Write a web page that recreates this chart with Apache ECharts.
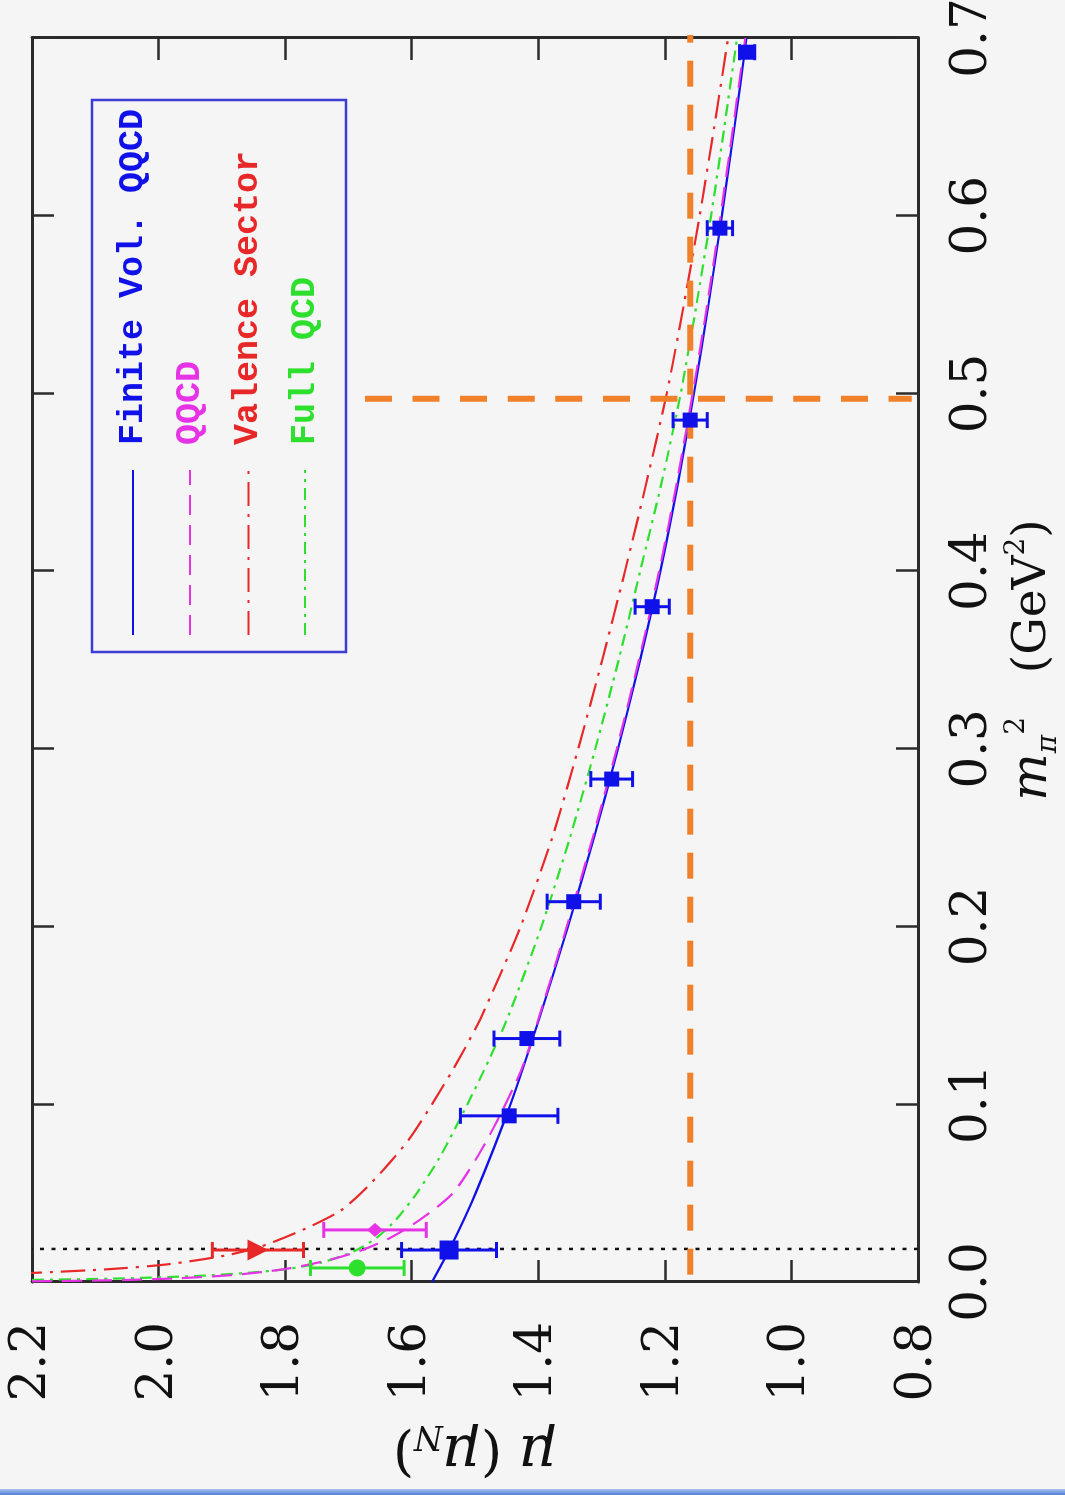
<!DOCTYPE html>
<html><head><meta charset="utf-8">
<script src="https://cdn.jsdelivr.net/npm/echarts@6/dist/echarts.min.js"></script>
<style>
html,body{margin:0;padding:0;background:#f5f5f5;width:1065px;height:1495px;overflow:hidden;}
#chart{position:absolute;left:0;top:0;width:1495px;height:1065px;transform-origin:0 0;transform:translate(0,1495px) rotate(-90deg);}
#bar{position:absolute;left:0;bottom:0;width:1065px;height:6px;background:linear-gradient(#a9c1ee,#4f7fd8);}
</style></head><body>
<div id="chart"></div><div id="bar"></div>
<script>
// ---- data (x: m_pi^2 in GeV^2, y: mu in nuclear magnetons) ----
const xTickLabels = ['0.0','0.1','0.2','0.3','0.4','0.5','0.6','0.7'];
const yTickLabels = ['0.8','1.0','1.2','1.4','1.6','1.8','2.0','2.2'];

// Finite volume QQCD lattice points
const fvM2  = [0.018, 0.0935, 0.137, 0.214, 0.283, 0.380, 0.485, 0.593, 0.692];
const fvMu  = [1.541, 1.446, 1.418, 1.344, 1.284, 1.220, 1.160, 1.113, 1.070];
const fvErr = [0.075, 0.077, 0.052, 0.042, 0.033, 0.027, 0.027, 0.020, 0.012];

// extrapolated points near the physical pion mass
const valM2 = [0.018], valMu = [1.843], valErr = [0.072];
const qqM2  = [0.0293], qqMu = [1.658], qqErr = [0.081];
const fullM2 = [0.0079], fullMu = [1.686], fullErr = [0.074];

// curves
const fvCurveM2 = [0, 0.02, 0.05, 0.1, 0.15, 0.2, 0.25, 0.3, 0.35, 0.4, 0.45, 0.5, 0.55, 0.6, 0.65, 0.7];
const fvCurveMu = [1.568, 1.538, 1.499, 1.444, 1.397, 1.353, 1.312, 1.274, 1.239, 1.207, 1.179, 1.154, 1.131, 1.110, 1.090, 1.071];

const qqCurveM2 = [0.0004, 0.001, 0.002, 0.004, 0.0073, 0.012, 0.0175, 0.025, 0.036, 0.05, 0.07, 0.09, 0.12, 0.15, 0.2, 0.25, 0.3, 0.35, 0.4, 0.45, 0.5, 0.55, 0.6, 0.65, 0.7];
const qqCurveMu = [2.2, 2.07, 1.975, 1.88, 1.80, 1.735, 1.682, 1.633, 1.583, 1.535, 1.497, 1.466, 1.426, 1.398, 1.355, 1.314, 1.276, 1.241, 1.209, 1.181, 1.156, 1.133, 1.112, 1.092, 1.073];

const valCurveM2 = [0.004, 0.0051, 0.0073, 0.01, 0.015, 0.02, 0.03, 0.04, 0.05, 0.065, 0.08, 0.1, 0.125, 0.15, 0.2, 0.25, 0.3, 0.35, 0.4, 0.45, 0.5, 0.55, 0.6, 0.65, 0.7];
const valCurveMu = [2.29, 2.2, 2.075, 1.985, 1.893, 1.838, 1.768, 1.713, 1.680, 1.640, 1.605, 1.568, 1.526, 1.489, 1.428, 1.378, 1.337, 1.299, 1.263, 1.229, 1.197, 1.170, 1.145, 1.122, 1.100];

const fullCurveM2 = [0.0012, 0.002, 0.0034, 0.005, 0.0073, 0.011, 0.0175, 0.025, 0.035, 0.05, 0.07, 0.1, 0.125, 0.15, 0.2, 0.25, 0.3, 0.35, 0.4, 0.45, 0.5, 0.55, 0.6, 0.65, 0.7];
const fullCurveMu = [2.2, 2.06, 1.94, 1.865, 1.797, 1.742, 1.690, 1.655, 1.625, 1.592, 1.556, 1.512, 1.478, 1.447, 1.395, 1.350, 1.310, 1.273, 1.239, 1.205, 1.175, 1.150, 1.127, 1.106, 1.086];

// reference lines
const physM2 = 0.0186;          // dotted line
const refMu = 1.160;            // orange dashed (constant mu)
const refMuM2Range = [0.712, 0.003];
const refM2 = 0.497;            // orange dashed (constant m^2)
const refM2MuRange = [1.674, 0.81];

const legendNames = ['Finite Vol. QQCD', 'QQCD', 'Valence Sector', 'Full QCD'];

// ---- styles ----
const C = {blue:'#1010e8', magenta:'#e633e6', red:'#e82828', green:'#2ee02e', orange:'#f0802a', frame:'#2b2b2b'};
const dashQQ = [20, 10];
const dashVal = [24, 8, 3, 8];
const dashFull = [12, 6, 3, 6];

const pairs = (xs, ys) => xs.map((x, i) => [x, ys[i]]);
const errData = (xs, ys, es) => xs.map((x, i) => [x, ys[i] - es[i], ys[i] + es[i]]);

function errSeries(xs, ys, es, color) {
  return {
    type: 'custom', data: errData(xs, ys, es), z: 5, clip: false,
    renderItem: function (params, api) {
      const x = api.value(0);
      const p1 = api.coord([x, api.value(1)]);
      const p2 = api.coord([x, api.value(2)]);
      const w = 8;
      const st = {stroke: color, lineWidth: 3};
      return {type: 'group', children: [
        {type: 'line', shape: {x1: p1[0], y1: p1[1], x2: p2[0], y2: p2[1]}, style: st},
        {type: 'line', shape: {x1: p1[0] - w, y1: p1[1], x2: p1[0] + w, y2: p1[1]}, style: st},
        {type: 'line', shape: {x1: p2[0] - w, y1: p2[1], x2: p2[0] + w, y2: p2[1]}, style: st}
      ]};
    }
  };
}

function curve(name, xs, ys, color, dash, z) {
  return {
    name: name, type: 'line', data: pairs(xs, ys), showSymbol: false, symbol: 'none',
    smooth: 0.25, z: z,
    lineStyle: {color: color, width: 2.2, type: dash}
  };
}

// ---- legend drawn as graphic (in unrotated chart coordinates) ----
const legX = 843, legY = 92, legW = 552, legH = 254;
const legRows = [133, 190, 248.5, 305];
const legColors = [C.blue, C.magenta, C.red, C.green];
const legDash = [null, dashQQ, dashVal, dashFull];
const legendGraphic = [{type: 'rect', shape: {x: legX, y: legY, width: legW, height: legH},
  style: {fill: 'none', stroke: '#3d3dd6', lineWidth: 2.5}, z: 20}];
legendNames.forEach((n, i) => {
  legendGraphic.push({type: 'line', shape: {x1: legX + 17, y1: legRows[i], x2: legX + 182, y2: legRows[i]},
    style: {stroke: legColors[i], lineWidth: 2.2, lineDash: legDash[i]}, z: 20});
  legendGraphic.push({type: 'text', x: legX + 207, y: legRows[i],
    style: {text: n, fill: legColors[i], font: 'bold 35px "Liberation Mono", monospace', verticalAlign: 'middle', align: 'left'}, z: 20});
});

const option = {
  backgroundColor: '#f5f5f5',
  animation: false,
  grid: {left: 213, right: 38, top: 32, bottom: 147, containLabel: false, outerBoundsMode: 'none'},
  xAxis: [{
    type: 'value', min: 0, max: 0.7, interval: 0.1, position: 'bottom',
    axisLine: {show: true, onZero: false, lineStyle: {color: C.frame, width: 3}},
    axisTick: {show: true, inside: true, length: 22, lineStyle: {color: C.frame, width: 2.5}},
    axisLabel: {show: true, margin: 30, fontFamily: 'DejaVu Serif', fontSize: 50, color: '#111',
      formatter: v => xTickLabels[Math.round(v * 10)]},
    splitLine: {show: false},
    name: '{m|m}{sub|π}{sup|2}   {n|(GeV}{sup|2}{n|)}',
    nameLocation: 'middle', nameGap: 60,
    nameTextStyle: {fontFamily: 'DejaVu Serif', fontSize: 46, color: '#111', lineHeight: 60,
      rich: {
        m: {fontFamily: 'DejaVu Serif', fontStyle: 'italic', fontSize: 50, color: '#111', lineHeight: 60},
        sub: {fontFamily: 'DejaVu Serif', fontStyle: 'italic', fontSize: 28, color: '#111', verticalAlign: 'bottom', lineHeight: 28},
        sup: {fontFamily: 'DejaVu Serif', fontSize: 28, color: '#111', verticalAlign: 'top', lineHeight: 28},
        n: {fontFamily: 'DejaVu Serif', fontSize: 47, color: '#111', lineHeight: 60}
      }}
  }, {
    type: 'value', min: 0, max: 0.7, interval: 0.1, position: 'top',
    axisLine: {show: true, onZero: false, lineStyle: {color: C.frame, width: 3}},
    axisTick: {show: true, inside: true, length: 22, lineStyle: {color: C.frame, width: 2.5}},
    axisLabel: {show: false}, splitLine: {show: false}
  }],
  yAxis: [{
    type: 'value', min: 0.8, max: 2.2, interval: 0.2, position: 'left',
    axisLine: {show: true, onZero: false, lineStyle: {color: C.frame, width: 3}},
    axisTick: {show: true, inside: true, length: 22, lineStyle: {color: C.frame, width: 2.5}},
    axisLabel: {show: true, margin: 40, fontFamily: 'DejaVu Serif', fontSize: 50, color: '#111',
      formatter: v => yTickLabels[Math.round((v - 0.8) * 5)]},
    splitLine: {show: false},
    name: '{i|μ} ({i|μ}{sub|N})',
    nameLocation: 'middle', nameGap: 136, nameRotate: 90,
    nameTextStyle: {fontFamily: 'DejaVu Serif', fontSize: 55, color: '#111', lineHeight: 66,
      rich: {
        i: {fontFamily: 'DejaVu Serif', fontStyle: 'italic', fontSize: 58, color: '#111', lineHeight: 66},
        sub: {fontFamily: 'DejaVu Serif', fontStyle: 'italic', fontSize: 33, color: '#111', verticalAlign: 'bottom', lineHeight: 33}
      }}
  }, {
    type: 'value', min: 0.8, max: 2.2, interval: 0.2, position: 'right',
    axisLine: {show: true, onZero: false, lineStyle: {color: C.frame, width: 3}},
    axisTick: {show: true, inside: true, length: 22, lineStyle: {color: C.frame, width: 2.5}},
    axisLabel: {show: false}, splitLine: {show: false}
  }],
  graphic: legendGraphic,
  series: [
    {type: 'line', data: [[physM2, 0.8], [physM2, 2.2]], showSymbol: false, symbol: 'none', z: 1,
      lineStyle: {color: '#111', width: 2.5, type: [4, 7.5]}},
    curve(legendNames[0], fvCurveM2, fvCurveMu, C.blue, 'solid', 2),
    curve(legendNames[2], valCurveM2, valCurveMu, C.red, dashVal, 2),
    curve(legendNames[3], fullCurveM2, fullCurveMu, C.green, dashFull, 2),
    curve(legendNames[1], qqCurveM2, qqCurveMu, C.magenta, dashQQ, 3),
    {type: 'line', data: [[refMuM2Range[0], refMu], [refMuM2Range[1], refMu]], showSymbol: false, symbol: 'none',
      clip: false, z: 4, lineStyle: {color: C.orange, width: 6, type: [26, 18]}},
    {type: 'line', data: [[refM2, refM2MuRange[0]], [refM2, refM2MuRange[1]]], showSymbol: false, symbol: 'none',
      clip: false, z: 4, lineStyle: {color: C.orange, width: 6, type: [27, 20.6]}},
    errSeries(fvM2, fvMu, fvErr, C.blue),
    errSeries(valM2, valMu, valErr, C.red),
    errSeries(qqM2, qqMu, qqErr, C.magenta),
    errSeries(fullM2, fullMu, fullErr, C.green),
    {type: 'scatter', data: pairs(fvM2, fvMu), symbol: 'rect', z: 6,
      symbolSize: (v, p) => p.dataIndex === 0 ? 19 : 15, itemStyle: {color: C.blue, opacity: 1}},
    {type: 'scatter', data: pairs(valM2, valMu), symbol: 'triangle', symbolRotate: 180, symbolSize: 21, z: 6,
      itemStyle: {color: C.red, opacity: 1}},
    {type: 'scatter', data: pairs(qqM2, qqMu), symbol: 'diamond', symbolSize: [14, 16], z: 6,
      itemStyle: {color: C.magenta, opacity: 1}},
    {type: 'scatter', data: pairs(fullM2, fullMu), symbol: 'circle', symbolSize: 17, z: 6,
      itemStyle: {color: C.green, opacity: 1}}
  ]
};

const chart = echarts.init(document.getElementById('chart'), null, {renderer: 'canvas'});
chart.setOption(option);
</script></body></html>
